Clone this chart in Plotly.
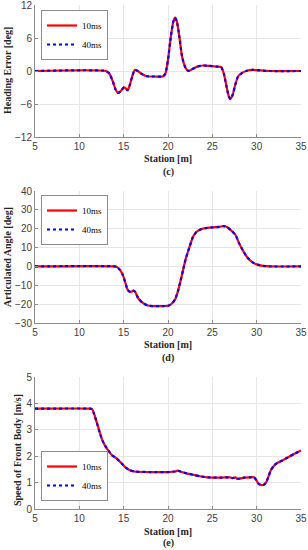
import plotly.graph_objects as go

# ---- data ----
station_c = [5, 13.0, 13.4, 13.8, 14.1, 14.4, 14.7, 15.0, 15.2, 15.45, 15.7, 16.0, 16.25, 16.6, 17.0, 17.6,
             18.5, 19.4, 19.7, 20.0, 20.3, 20.6, 20.8, 21.0, 21.3, 21.6, 22.0, 22.3, 22.7, 23.3, 24.0, 24.6,
             25.5, 26.0, 26.3, 26.6, 26.85, 27.05, 27.3, 27.6, 27.9, 28.4, 28.9, 29.5, 30.5, 31.5, 35]
heading_err = [0, 0, -0.5, -2.0, -3.4, -4.0, -3.6, -3.0, -3.1, -3.5, -2.5, -0.8, 0.2, 0.0, -0.5, -0.95,
               -1.0, -1.0, -0.5, 2.0, 6.0, 9.0, 9.7, 9.0, 6.0, 2.5, 0.5, 0.0, 0.3, 0.8, 1.0, 0.95,
               0.8, 0.7, -0.5, -2.8, -4.6, -5.1, -4.3, -2.4, -1.0, -0.3, 0.05, 0.2, 0.1, 0.0, 0]

station_d = [5, 14.0, 14.3, 14.6, 14.9, 15.15, 15.4, 15.6, 15.9, 16.1, 16.3, 16.65, 17.2, 17.7, 18.3, 19.5,
             20.0, 20.4, 20.8, 21.1, 21.4, 21.7, 22.0, 22.4, 22.8, 23.2, 23.6, 24.2, 25.0, 25.8, 26.3,
             26.7, 27.1, 27.6, 28.0, 28.5, 29.0, 29.5, 30.0, 30.7, 31.5, 35]
artic_angle = [0, 0, -0.5, -2.0, -4.5, -8.0, -11.8, -13.2, -13.4, -12.8, -13.5, -17.0, -19.5, -20.7, -21.0, -21.0,
               -20.9, -19.8, -17.5, -13.5, -8.0, -2.0, 4.0, 10.0, 15.5, 18.3, 19.5, 20.3, 20.7, 21.0, 21.4,
               20.8, 19.2, 16.8, 12.5, 8.0, 4.5, 2.3, 1.1, 0.3, 0.0, 0]

station_e = [5, 11.2, 11.45, 11.65, 11.95, 12.3, 12.6, 12.9, 13.3, 13.7, 14.2, 14.7, 15.2, 15.7, 16.2, 18, 20,
             20.8, 21.1, 21.4, 22.1, 22.9, 23.6, 24.5, 26, 27.0, 27.3, 27.6, 27.8, 28.1, 28.6, 29.2, 29.7,
             29.95, 30.2, 30.5, 30.8, 31.05, 31.3, 31.6, 32.0, 32.4, 32.9, 33.5, 34.2, 35]
speed_front = [3.8, 3.8, 3.78, 3.62, 3.3, 2.9, 2.6, 2.4, 2.2, 2.03, 1.92, 1.75, 1.58, 1.47, 1.42, 1.4, 1.4,
               1.42, 1.45, 1.42, 1.35, 1.29, 1.24, 1.2, 1.19, 1.2, 1.17, 1.2, 1.15, 1.15, 1.19, 1.2, 1.2,
               1.1, 0.96, 0.91, 0.92, 1.0, 1.2, 1.47, 1.66, 1.76, 1.84, 1.95, 2.08, 2.22]

series_names = ["10ms", "40ms"]
y_titles = ["Heading Error [deg]", "Articulated Angle [deg]", "Speed of Front Body [m/s]"]
sub_labels = ["(c)", "(d)", "(e)"]
x_ticks = [5, 10, 15, 20, 25, 30, 35]
y_ticks = [[-12, -6, 0, 6, 12], [-30, -20, -10, 0, 10, 20, 30, 40], [0, 1, 2, 3, 4, 5]]

W, H = 308, 550
panels = [(station_c, heading_err), (station_d, artic_angle), (station_e, speed_front)]
tops = [5, 191, 377]
bots = [137, 323, 509]
xl, xr = 35, 301

fig = go.Figure()
serif = "Liberation Serif, Times New Roman, serif"
sans = "Liberation Sans, Arial, sans-serif"

for i, (xs, ys) in enumerate(panels):
    n = "" if i == 0 else str(i + 1)
    leg = "legend" if i == 0 else "legend" + str(i + 1)
    fig.add_trace(go.Scatter(x=xs, y=ys, mode="lines", name=series_names[0],
                             line=dict(color="#ff0000", width=2.2, shape="spline", smoothing=0.5),
                             xaxis="x" + n, yaxis="y" + n, legend=leg))
    fig.add_trace(go.Scatter(x=xs, y=ys, mode="lines", name=series_names[1],
                             line=dict(color="#0000ff", width=2.2, dash="dot", shape="spline", smoothing=0.5),
                             xaxis="x" + n, yaxis="y" + n, legend=leg))

layout = dict(width=W, height=H, margin=dict(l=0, r=0, t=0, b=0),
              paper_bgcolor="white", plot_bgcolor="white", showlegend=True)
axcommon = dict(showline=True, linecolor="#8c8c8c", linewidth=1, mirror=False,
                ticks="inside", ticklen=3, tickcolor="#8c8c8c",
                showgrid=True, gridcolor="#e6e6e6", gridwidth=1, zeroline=False,
                automargin=False, ticklabeloverflow="allow",
                tickfont=dict(family=sans, size=10, color="#404040"))
ranges = [[-12, 12], [-30, 40], [0, 5]]
annotations = []
for i in range(3):
    n = "" if i == 0 else str(i + 1)
    ydom = [1 - bots[i] / H, 1 - tops[i] / H]
    layout["xaxis" + n] = dict(axcommon, domain=[xl / W, xr / W], range=[5, 35],
                               tickvals=x_ticks, anchor="y" + n)
    layout["yaxis" + n] = dict(axcommon, domain=ydom, range=ranges[i],
                               tickvals=y_ticks[i], anchor="x" + n)

legpos = [dict(x=41 / W, y=1 - 10 / H, yanchor="top"),
          dict(x=41 / W, y=1 - 195 / H, yanchor="top"),
          dict(x=41 / W, y=1 - 501 / H, yanchor="bottom")]
for i in range(3):
    key = "legend" if i == 0 else "legend" + str(i + 1)
    layout[key] = dict(legpos[i], xanchor="left", bgcolor="white", bordercolor="#8c8c8c",
                       borderwidth=1, font=dict(family=serif, size=9, color="black"),
                       itemwidth=30, tracegroupgap=0)

ytitle_x = [7, 7, 17]
ytitle_y = [71, 257, 450]
xtitle_y = [158, 344, 531]
label_y = [172, 358, 543]
for i in range(3):
    annotations.append(dict(text="<b>" + y_titles[i] + "</b>", x=ytitle_x[i] / W, y=1 - ytitle_y[i] / H,
                            xref="paper", yref="paper", textangle=-90, showarrow=False,
                            xanchor="center", yanchor="middle",
                            font=dict(family=serif, size=10, color="#262626")))
    annotations.append(dict(text="<b>Station [m]</b>", x=168 / W, y=1 - xtitle_y[i] / H,
                            xref="paper", yref="paper", showarrow=False,
                            xanchor="center", yanchor="middle",
                            font=dict(family=serif, size=10, color="#262626")))
    annotations.append(dict(text="<b>" + sub_labels[i] + "</b>", x=168 / W, y=1 - label_y[i] / H,
                            xref="paper", yref="paper", showarrow=False,
                            xanchor="center", yanchor="middle",
                            font=dict(family=serif, size=10, color="#262626")))
layout["annotations"] = annotations
fig.update_layout(**layout)
fig.write_html("out.html", config={"displayModeBar": False},
               post_script="document.body.style.margin='0px';document.body.style.overflow='hidden';")
